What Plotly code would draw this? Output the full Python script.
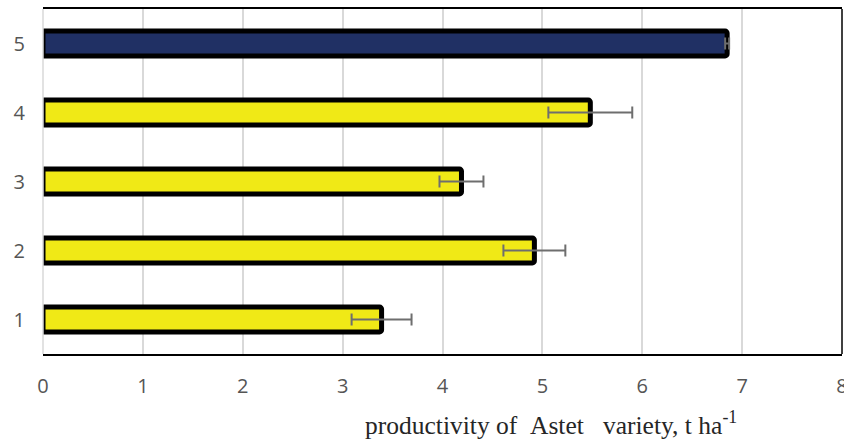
import plotly.graph_objects as go

categories = ["1", "2", "3", "4", "5"]
values = [3.39, 4.92, 4.19, 5.48, 6.85]
errors = [0.30, 0.31, 0.22, 0.42, 0.02]
bar_colors = ["#F0E916", "#F0E916", "#F0E916", "#F0E916", "#203064"]
x_ticks = [0, 1, 2, 3, 4, 5, 6, 7, 8]

fig = go.Figure()
fig.add_trace(go.Bar(
    y=categories, x=values, orientation="h",
    marker=dict(color=bar_colors, line=dict(color="#000000", width=5), cornerradius=2),
    width=0.36,
    error_x=dict(type="data", array=errors, color="#6E6E6E", thickness=2, width=6),
))

fig.update_layout(
    width=844, height=440,
    margin=dict(l=43, r=2, t=9, b=86, autoexpand=False),
    plot_bgcolor="white", paper_bgcolor="white",
    showlegend=False,
    font=dict(family="Open Sans, Liberation Sans, sans-serif", size=20, color="#595959"),
    xaxis=dict(
        range=[0, 8], tickvals=x_ticks, showgrid=True, gridcolor="#D9D9D9", gridwidth=1.5,
        showline=True, linecolor="#000000", linewidth=1.5, mirror=True,
        zeroline=False, ticks="", ticklabelstandoff=13, automargin=False,
        ticklabeloverflow="allow",
        tickfont=dict(size=20, color="#555555"),
    ),
    yaxis=dict(
        showgrid=False, showline=False, zeroline=False, ticks="", automargin=False,
        ticklabelstandoff=17, tickfont=dict(size=20, color="#555555"),
    ),
    bargap=0.5,
)
fig.add_shape(type="line", xref="paper", yref="paper", x0=1, x1=1, y0=0, y1=1,
              line=dict(color="#000000", width=1.5))
fig.add_shape(type="line", xref="paper", yref="paper", x0=0, x1=0, y0=0, y1=1,
              line=dict(color="#D9D9D9", width=1.5))
fig.add_annotation(
    text="productivity of\u00a0\u00a0Astet\u00a0\u00a0\u00a0variety, t ha<sup>-1</sup>",
    xref="paper", yref="paper", x=0.636, y=-0.2, xanchor="center", yanchor="middle",
    showarrow=False,
    font=dict(family="Liberation Serif, Times New Roman, serif", size=25.5, color="#262626"),
)

fig.write_html("out.html", config={"displayModeBar": False},
               post_script="document.body.style.margin='0';")
